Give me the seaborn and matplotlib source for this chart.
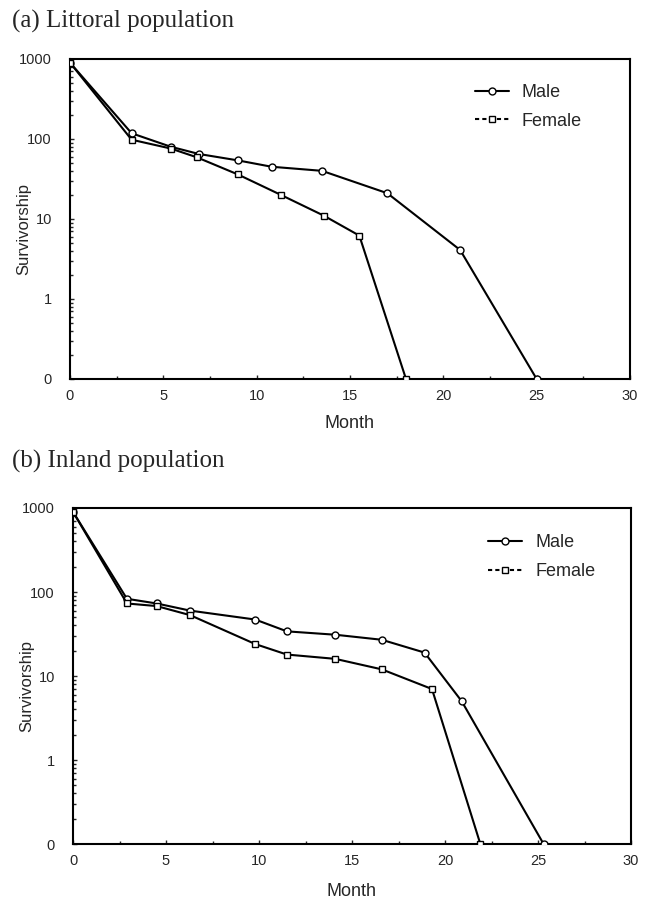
import matplotlib
matplotlib.use("Agg")
import matplotlib.pyplot as plt
import matplotlib.ticker as mticker
from matplotlib.lines import Line2D
import seaborn as sns
import pandas as pd

# panel (a) littoral
lit_male_month = [0, 3.3, 5.4, 6.9, 9.0, 10.8, 13.5, 17.0, 20.9, 25.0]
lit_male_surv = [900, 118, 80, 65, 54, 45, 40, 21, 4.1, 0.1]
lit_female_month = [0, 3.3, 5.4, 6.8, 9.0, 11.3, 13.6, 15.5, 18.0]
lit_female_surv = [900, 98, 76, 59, 36, 20, 11, 6.2, 0.1]

# panel (b) inland
inl_male_month = [0, 2.9, 4.5, 6.3, 9.8, 11.5, 14.1, 16.6, 18.9, 20.9, 25.3]
inl_male_surv = [900, 83, 73, 60, 47, 34, 31, 27, 19, 5, 0.1]
inl_female_month = [0, 2.9, 4.5, 6.3, 9.8, 11.5, 14.1, 16.6, 19.3, 21.9]
inl_female_surv = [900, 73, 68, 53, 24, 18, 16, 12, 7, 0.1]

titles = ["(a) Littoral population", "(b) Inland population"]
ytick_vals = [0.1, 1, 10, 100, 1000]
ytick_labels = ["0", "1", "10", "100", "1000"]

sns.set_style("white")
plt.rcParams["font.family"] = ["Liberation Sans", "DejaVu Sans"]

fig = plt.figure(figsize=(6.48, 8.99), dpi=100)
W, H = 648, 899
boxes = [(70, 59, 630, 379), (73, 508, 631, 844)]
title_base = [28, 468]
legend_x = [0.723, 0.744]

panels = [
    (lit_male_month, lit_male_surv, lit_female_month, lit_female_surv),
    (inl_male_month, inl_male_surv, inl_female_month, inl_female_surv),
]

mk = dict(markersize=5, markerfacecolor="white", markeredgecolor="black",
          markeredgewidth=1.0)

for i, (mm, ms, fm, fs) in enumerate(panels):
    l, t, r, b = boxes[i]
    ax = fig.add_axes([l / W, 1 - b / H, (r - l) / W, (b - t) / H])
    df_m = pd.DataFrame({"Month": mm, "Survivorship": ms})
    df_f = pd.DataFrame({"Month": fm, "Survivorship": fs})
    sns.lineplot(data=df_m, x="Month", y="Survivorship", ax=ax, color="black",
                 lw=1.5, marker="o", zorder=3, **mk)
    sns.lineplot(data=df_f, x="Month", y="Survivorship", ax=ax, color="black",
                 lw=1.5, marker="s", zorder=3, **mk)
    ax.set_yscale("log")
    ax.set_ylim(0.1, 1000)
    ax.set_xlim(0, 30)
    ax.set_yticks(ytick_vals)
    ax.set_yticklabels(ytick_labels)
    ax.yaxis.set_minor_locator(mticker.LogLocator(base=10, subs=range(2, 10)))
    ax.yaxis.set_minor_formatter(mticker.NullFormatter())
    ax.set_xticks(range(0, 31, 5))
    ax.xaxis.set_minor_locator(mticker.MultipleLocator(2.5))
    ax.tick_params(which="both", direction="in", left=True, bottom=True,
                   labelsize=10.5)
    ax.tick_params(axis="y", pad=13)
    ax.tick_params(axis="x", pad=7)
    ax.tick_params(which="major", length=3, width=1)
    ax.tick_params(which="minor", length=2, width=1)
    for s in ax.spines.values():
        s.set_color("black")
        s.set_linewidth(1.5)
    ax.set_xlabel("Month", fontsize=13, va="center")
    ax.set_ylabel("Survivorship", fontsize=12)
    ax.xaxis.set_label_coords(0.5, -0.14)
    ax.yaxis.set_label_coords(-0.07, 0.47)

    handles = [
        Line2D([], [], color="black", lw=1.5, marker="o", **mk),
        Line2D([], [], color="black", lw=1.5, ls=(0, (2, 1.5)), marker="s", **mk),
    ]
    ax.legend(handles, ["Male", "Female"], loc="upper left", frameon=False,
              fontsize=13, handlelength=1.9, handletextpad=0.7,
              labelspacing=0.65, borderpad=0, borderaxespad=0,
              bbox_to_anchor=(legend_x[i], 0.922))

    fig.text(12 / W, 1 - title_base[i] / H, titles[i], fontsize=18,
             family=["Liberation Serif", "DejaVu Serif"], va="baseline",
             ha="left")

fig.savefig("out.png", dpi=100)
